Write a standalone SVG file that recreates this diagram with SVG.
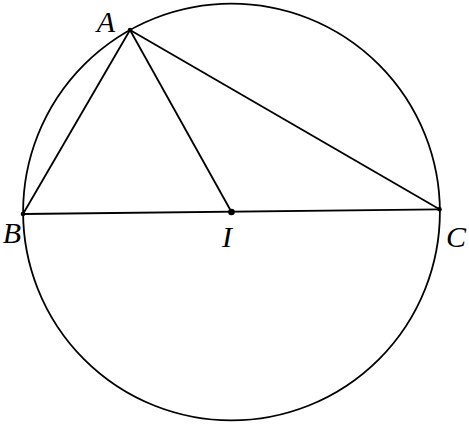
<svg xmlns="http://www.w3.org/2000/svg" width="469" height="426" viewBox="0 0 469 426">
<style>
.l{stroke:#000;stroke-width:1.8;fill:none}
.t{font-family:"Liberation Serif",serif;font-style:italic;font-size:30px;fill:#000;text-anchor:middle}
</style>
<rect width="469" height="426" fill="#fff"/>
<g id="circle"><circle class="l" cx="231.5" cy="212" r="208.4"/></g>
<g id="connectors">
<line class="l" x1="130" y1="30" x2="23" y2="214"/>
<line class="l" x1="130" y1="30" x2="439.5" y2="209.3"/>
<line class="l" x1="130" y1="30" x2="231.5" y2="212"/>
<line class="l" x1="23" y1="214" x2="439.5" y2="209.3"/>
</g>
<g id="A"><circle cx="130" cy="30" r="2.3"/><text class="t" x="106" y="32">A</text></g>
<g id="B"><circle cx="23" cy="214" r="2.3"/><text class="t" x="12" y="243">B</text></g>
<g id="C"><circle cx="439.5" cy="209.3" r="2.3"/><text class="t" x="456" y="247">C</text></g>
<g id="I"><circle cx="231.5" cy="212" r="3.3"/><text class="t" x="227" y="247">I</text></g>
</svg>
